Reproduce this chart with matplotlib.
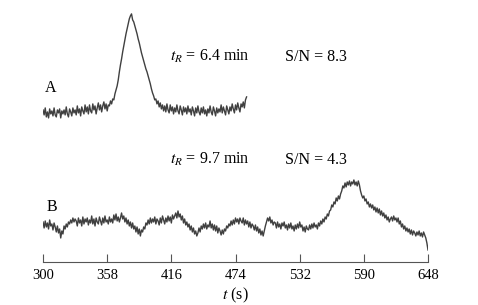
import matplotlib
matplotlib.use("Agg")
import matplotlib.pyplot as plt
import numpy as np

# trace A, 1 s steps from 300 s
sig_a = [152, 147, 154, 145, 150, 144, 153, 148, 151, 146,
         154, 147, 145, 152, 149, 153, 144, 151, 148, 152,
         147, 155, 148, 145, 153, 150, 146, 154, 149, 152,
         147, 156, 149, 153, 146, 155, 151, 148, 157, 150,
         155, 148, 157, 151, 149, 158, 152, 156, 148, 154,
         159, 152, 157, 150, 156, 160, 153, 158, 151, 157,
         156, 161, 158, 163, 162, 168, 172, 176, 182, 190,
         197, 203, 210, 216, 222, 228, 233, 238, 243, 246,
         248, 242, 240, 236, 232, 228, 223, 219, 214, 209,
         205, 201, 197, 193, 190, 186, 182, 178, 173, 169,
         166, 162, 163, 158, 161, 155, 159, 153, 157, 151,
         156, 150, 158, 152, 149, 157, 151, 155, 148, 154,
         150, 157, 151, 148, 156, 152, 147, 155, 150, 154,
         148, 156, 150, 153, 147, 155, 151, 146, 154, 149,
         156, 150, 147, 154, 149, 155, 148, 152, 146, 153,
         149, 156, 150, 147, 155, 151, 146, 154, 149, 153,
         150, 157, 149, 155, 151, 147, 156, 152, 148, 155,
         151, 158, 153, 149, 157, 152, 159, 154, 150, 158,
         155, 160, 154, 162, 165]

# trace B, 1 s steps from 300 s
sig_b = [40, 34, 41, 35, 39, 33, 42, 36, 38, 32,
         39, 35, 30, 36, 29, 33, 24, 31, 28, 36,
         33, 38, 35, 40, 38, 42, 39, 44, 40, 43,
         41, 36, 44, 39, 42, 36, 45, 38, 43, 40,
         44, 37, 42, 39, 46, 38, 43, 36, 44, 40,
         38, 45, 41, 37, 44, 39, 46, 40, 42, 38,
         45, 40, 43, 39, 47, 42, 48, 41, 45, 40,
         44, 49, 43, 46, 40, 44, 38, 42, 36, 40,
         34, 39, 33, 36, 30, 35, 28, 33, 26, 32,
         30, 35, 33, 39, 37, 42, 38, 44, 39, 43,
         40, 45, 38, 43, 41, 37, 44, 39, 46, 42,
         38, 44, 40, 46, 41, 45, 39, 47, 43, 46,
         49, 44, 51, 45, 48, 42, 46, 39, 43, 37,
         40, 35, 38, 32, 36, 30, 34, 28, 31, 26,
         29, 34, 30, 36, 33, 38, 34, 39, 33, 37,
         35, 41, 34, 38, 32, 37, 31, 36, 29, 34,
         31, 27, 32, 28, 33, 31, 36, 34, 38, 36,
         41, 37, 42, 38, 44, 40, 43, 38, 44, 41,
         39, 44, 37, 42, 38, 41, 35, 40, 34, 38,
         36, 32, 37, 31, 35, 29, 33, 27, 31, 26,
         31, 36, 40, 44, 41, 45, 39, 42, 37, 40,
         39, 34, 40, 35, 38, 33, 39, 36, 40, 34,
         37, 32, 38, 34, 39, 33, 36, 31, 37, 33,
         38, 34, 40, 35, 37, 31, 35, 30, 36, 33,
         32, 37, 33, 38, 34, 39, 35, 37, 33, 39,
         36, 41, 38, 43, 40, 45, 43, 48, 46, 51,
         52, 57, 55, 60, 58, 64, 61, 66, 63, 68,
         71, 76, 74, 79, 75, 80, 77, 81, 76, 80,
         78, 82, 77, 80, 76, 81, 77, 71, 67, 64,
         66, 61, 63, 58, 60, 55, 58, 54, 57, 52,
         55, 50, 54, 49, 53, 47, 51, 46, 49, 44,
         47, 42, 45, 40, 43, 45, 41, 46, 42, 44,
         40, 44, 38, 41, 35, 38, 33, 36, 31, 34,
         30, 33, 28, 32, 27, 31, 29, 26, 30, 27,
         31, 26, 29, 25, 30, 27, 24, 19, 12]

t_a = np.arange(300, 300 + len(sig_a))
t_b = np.arange(300, 300 + len(sig_b))
ticks = [300, 358, 416, 474, 532, 590, 648]

plt.rcParams['font.family'] = ['Liberation Serif', 'DejaVu Serif']
plt.rcParams['mathtext.fontset'] = 'stix'

fig = plt.figure(figsize=(4.78, 3.05), dpi=100)
ax = fig.add_axes([0.090, 0.141, 0.8054, 0.843])

ax.plot(t_a, sig_a, color='#404040', lw=1.0)
ax.plot(t_b, sig_b, color='#404040', lw=1.0)

fs = 11.5
ax.text(307, 174, 'A', fontsize=fs, va='center', ha='center')
ax.text(308, 55, 'B', fontsize=fs, va='center', ha='center')
ax.text(415, 205, r'$t_R$ = 6.4 min', fontsize=fs, va='center')
ax.text(519, 205, 'S/N = 8.3', fontsize=fs, va='center')
ax.text(415, 102, r'$t_R$ = 9.7 min', fontsize=fs, va='center')
ax.text(519, 102, 'S/N = 4.3', fontsize=fs, va='center')

ax.set_xlim(300, 648)
ax.set_ylim(0, 257)
ax.set_xticks(ticks)
ax.set_yticks([])
for s in ['left', 'top', 'right']:
    ax.spines[s].set_visible(False)
ax.spines['bottom'].set_color('#555555')
ax.tick_params(axis='x', direction='in', length=6, color='#555555',
               labelsize=10.5, pad=5)
ax.set_xlabel(r'$t$ (s)', fontsize=fs, labelpad=3)

fig.savefig('out.png', dpi=100)
